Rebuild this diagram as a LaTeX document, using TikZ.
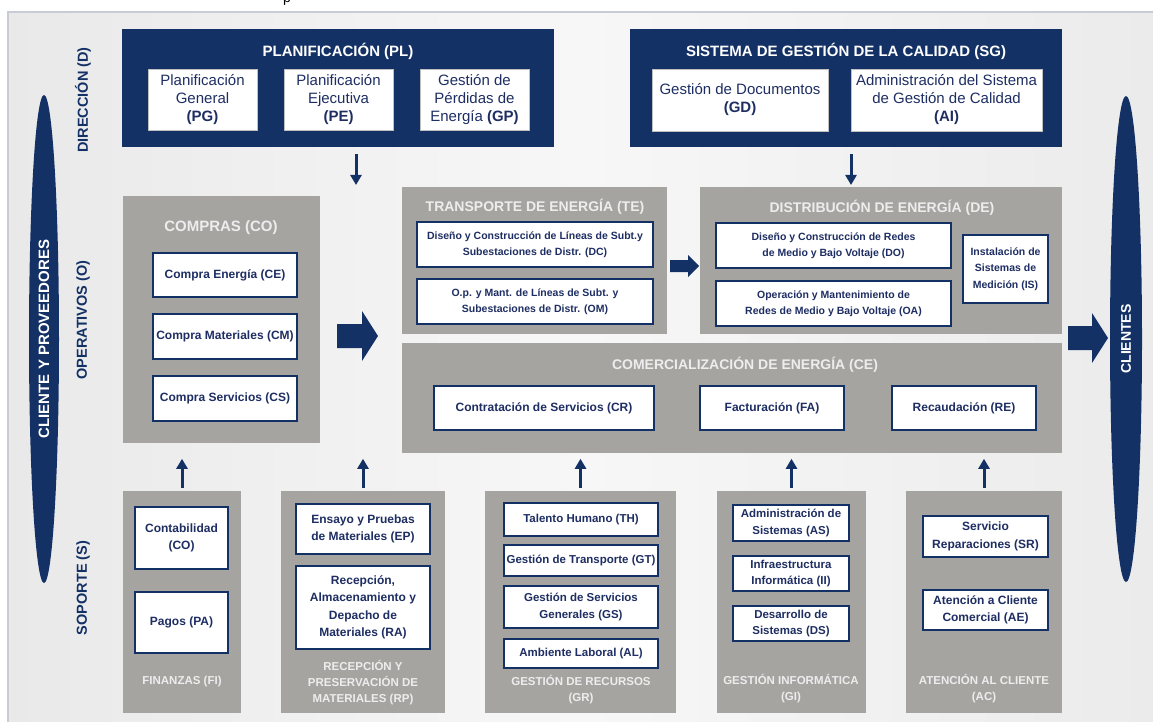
\documentclass[tikz,border=0pt]{standalone}
\usepackage{fontspec}
\setmainfont{Liberation Sans}
\usetikzlibrary{arrows.meta,shapes.geometric}

\definecolor{navy}{HTML}{143166}
\definecolor{blockgray}{HTML}{A5A4A1}
\definecolor{boxtext}{HTML}{1E2E63}
\definecolor{lighttext}{HTML}{EDEDED}
\definecolor{panL}{HTML}{E9E9E9}
\definecolor{panM}{HTML}{F7F7F7}
\definecolor{panR}{HTML}{EBEBEB}
\definecolor{panline}{HTML}{C9CCD6}

\newcommand\setfs[2]{\fontsize{#1}{#2}\selectfont}

\tikzset{
  corners/.style n args={4}{at={({(#1+#3)/2},{(#2+#4)/2})},
    minimum width={(#3)-(#1)}, minimum height={(#4)-(#2)}},
  navyblock/.style={fill=navy, draw=none, inner sep=0pt},
  grayblock/.style={fill=blockgray, draw=none, inner sep=0pt},
  navytitle/.style={text=white, font=\bfseries\setfs{15}{18}},
  graytitle/.style={text=lighttext, font=\bfseries\setfs{14}{17}, align=center},
  bottomtitle/.style={text=lighttext, font=\bfseries\setfs{11.5}{16}, align=center},
  pbox/.style={fill=white, draw=black!25, line width=0.8pt, inner sep=1pt,
    align=center, text=boxtext, font=\setfs{15}{18}},
  wbox/.style={fill=white, draw=navy, line width=1.3pt, inner sep=1pt,
    align=center, text=boxtext, font=\bfseries\setfs{12}{17.5}},
  sbox/.style={wbox, font=\bfseries\setfs{10.5}{16.5}},
  sidelabel/.style={rotate=90, text=navy, font=\bfseries\setfs{14.5}{17}},
  lens/.style={ellipse, fill=navy, inner sep=0pt, rotate=90, text=white,
    font=\bfseries\setfs{15}{18}},
  thinarrow/.style={draw=navy, line width=3pt,
    -{Triangle[width=11pt,length=10pt]}},
  fatarrow/.style={fill=navy, draw=none},
}

\begin{document}
\begin{tikzpicture}[x=1pt,y=-1pt]
\useasboundingbox (0,0) rectangle (1153,722);

% page and panel
\fill[white] (0,0) rectangle (1153,722);
\shade[left color=panL, right color=panR, middle color=panM] (8,12) rectangle (1153,722);
\draw[panline, line width=1.5pt] (8,722) -- (8,12) -- (1153,12);
\node[anchor=base, inner sep=0pt, font=\setfs{14}{16}] (pfrag) at (287,3) {p};

% side lenses
\node[lens, minimum width=488, minimum height=30] (cyp) at (44,339) {CLIENTE Y PROVEEDORES};
\node[lens, minimum width=486, minimum height=32, font=\bfseries\setfs{14}{17}] (cli) at (1126,339) {CLIENTES};

% level labels
\node[sidelabel] (dir) at (83,100) {DIRECCIÓN (D)};
\node[sidelabel] (ope) at (83,320) {OPERATIVOS (O)};
\node[sidelabel] (sop) at (83,588) {SOPORTE (S)};

% ---- Dirección ----
\node[navyblock, corners={122}{29}{554}{147}] (pl) {};
\node[navytitle] (pl-t) at (338,51) {PLANIFICACIÓN (PL)};
\node[pbox, corners={148}{69}{257}{130}] (pg) {Planificación\\General\\\textbf{(PG)}};
\node[pbox, corners={284}{69}{393}{130}] (pe) {Planificación\\Ejecutiva\\\textbf{(PE)}};
\node[pbox, corners={420}{69}{529}{130}] (gp) {Gestión de\\Pérdidas de\\Energía \textbf{(GP)}};

\node[navyblock, corners={630}{29}{1062}{147}] (sg) {};
\node[navytitle] (sg-t) at (846,51) {SISTEMA DE GESTIÓN DE LA CALIDAD (SG)};
\node[pbox, corners={652}{69}{828}{131}] (gd) {Gestión de Documentos\\\textbf{(GD)}};
\node[pbox, corners={851}{69}{1042}{131}] (ai) {Administración del Sistema\\de Gestión de Calidad\\\textbf{(AI)}};

% ---- Operativos ----
\node[grayblock, corners={123}{196}{320}{443}] (co) {};
\node[graytitle, font=\bfseries\setfs{15}{18}] (co-t) at (221,228) {COMPRAS (CO)};
\node[wbox, corners={153}{253}{297}{297}] (co-ce) {Compra Energía (CE)};
\node[wbox, corners={153}{314}{297}{359}] (co-cm) {Compra Materiales (CM)};
\node[wbox, corners={153}{376}{297}{421}] (co-cs) {Compra Servicios (CS)};

\node[grayblock, corners={402}{187}{667}{334}] (te) {};
\node[graytitle] (te-t) at (535,207) {TRANSPORTE DE ENERGÍA (TE)};
\node[sbox, corners={417}{222}{653}{267}] (te-dc) {Diseño y Construcción de Líneas de Subt.y\\Subestaciones de Distr. (DC)};
\node[sbox, corners={417}{279}{653}{324}] (te-om) {O.p. y Mant. de Líneas de Subt. y\\Subestaciones de Distr. (OM)};

\node[grayblock, corners={700}{187}{1062}{334}] (de) {};
\node[graytitle] (de-t) at (882,208) {DISTRIBUCIÓN DE ENERGÍA (DE)};
\node[sbox, corners={716}{223}{951}{268}] (de-do) {Diseño y Construcción de Redes\\de Medio y Bajo Voltaje (DO)};
\node[sbox, corners={716}{281}{951}{326}] (de-oa) {Operación y Mantenimiento de\\Redes de Medio y Bajo Voltaje (OA)};
\node[sbox, corners={963}{235}{1048}{303}] (de-is) {Instalación de\\Sistemas de\\Medición (IS)};

\node[grayblock, corners={402}{343}{1062}{453}] (ce) {};
\node[graytitle] (ce-t) at (745,365) {COMERCIALIZACIÓN DE ENERGÍA (CE)};
\node[wbox, corners={434}{386}{654}{430}] (ce-cr) {Contratación de Servicios (CR)};
\node[wbox, corners={700}{386}{844}{430}] (ce-fa) {Facturación (FA)};
\node[wbox, corners={892}{386}{1036}{430}] (ce-re) {Recaudación (RE)};

% ---- Soporte ----
\node[grayblock, corners={123}{491}{241}{713}] (fi) {};
\node[wbox, corners={135}{507}{228}{569}] (fi-co) {Contabilidad\\(CO)};
\node[wbox, corners={135}{592}{228}{653}] (fi-pa) {Pagos (PA)};
\node[bottomtitle] (fi-t) at (182,682) {FINANZAS (FI)};

\node[grayblock, corners={281}{491}{445}{713}] (rp) {};
\node[wbox, corners={296}{504}{430}{554}] (rp-ep) {Ensayo y Pruebas\\de Materiales (EP)};
\node[wbox, corners={296}{566}{430}{649}] (rp-ra) {Recepción,\\Almacenamiento y\\Depacho de\\Materiales (RA)};
\node[bottomtitle] (rp-t) at (363,683) {RECEPCIÓN Y\\PRESERVACIÓN DE\\MATERIALES (RP)};

\node[grayblock, corners={485}{491}{676}{713}] (gr) {};
\node[wbox, font=\bfseries\setfs{11.5}{17}, corners={504}{503}{658}{536}] (gr-th) {Talento Humano (TH)};
\node[wbox, font=\bfseries\setfs{11.5}{17}, corners={504}{545}{658}{576}] (gr-gt) {Gestión de Transporte (GT)};
\node[wbox, font=\bfseries\setfs{11.5}{17}, corners={504}{586}{658}{628}] (gr-gs) {Gestión de Servicios\\Generales (GS)};
\node[wbox, font=\bfseries\setfs{11.5}{17}, corners={504}{639}{658}{668}] (gr-al) {Ambiente Laboral (AL)};
\node[bottomtitle] (gr-t) at (581,690) {GESTIÓN DE RECURSOS\\(GR)};

\node[grayblock, corners={717}{491}{866}{713}] (gi) {};
\node[wbox, font=\bfseries\setfs{11.5}{16.5}, corners={733}{505}{849}{541}] (gi-as) {Administración de\\Sistemas (AS)};
\node[wbox, font=\bfseries\setfs{11.5}{16.5}, corners={733}{556}{849}{591}] (gi-ii) {Infraestructura\\Informática (II)};
\node[wbox, font=\bfseries\setfs{11.5}{16.5}, corners={733}{606}{849}{641}] (gi-ds) {Desarrollo de\\Sistemas (DS)};
\node[bottomtitle] (gi-t) at (791,689) {GESTIÓN INFORMÁTICA\\(GI)};

\node[grayblock, corners={906}{491}{1062}{713}] (ac) {};
\node[wbox, corners={923}{516}{1048}{557}] (ac-sr) {Servicio\\Reparaciones (SR)};
\node[wbox, corners={923}{590}{1048}{630}] (ac-ae) {Atención a Cliente\\Comercial (AE)};
\node[bottomtitle] (ac-t) at (984,689) {ATENCIÓN AL CLIENTE\\(AC)};

% ---- flows ----
\coordinate (pl-arr) at (356,185);
\coordinate (sg-arr) at (851,185);
\draw[thinarrow, shorten <=7pt] (pl.south -| pl-arr) -- (pl-arr);
\draw[thinarrow, shorten <=7pt] (sg.south -| sg-arr) -- (sg-arr);

\foreach \b in {fi,rp,gr,gi,ac}{
  \coordinate (\b-arr) at ([yshift=32pt]\b.north);
  \draw[thinarrow, shorten <=3pt] (\b.north) -- (\b-arr);
}

% block arrows
\fill[fatarrow] (337,324) -- (362,324) -- (362,311) -- (378,336) -- (362,361) -- (362,348) -- (337,348) -- cycle;
\fill[fatarrow] (670,260) -- (688,260) -- (688,255) -- (699,266) -- (688,277) -- (688,272) -- (670,272) -- cycle;
\fill[fatarrow] (1068,326) -- (1092,326) -- (1092,313) -- (1108,338) -- (1092,363) -- (1092,350) -- (1068,350) -- cycle;
\end{tikzpicture}
\end{document}
